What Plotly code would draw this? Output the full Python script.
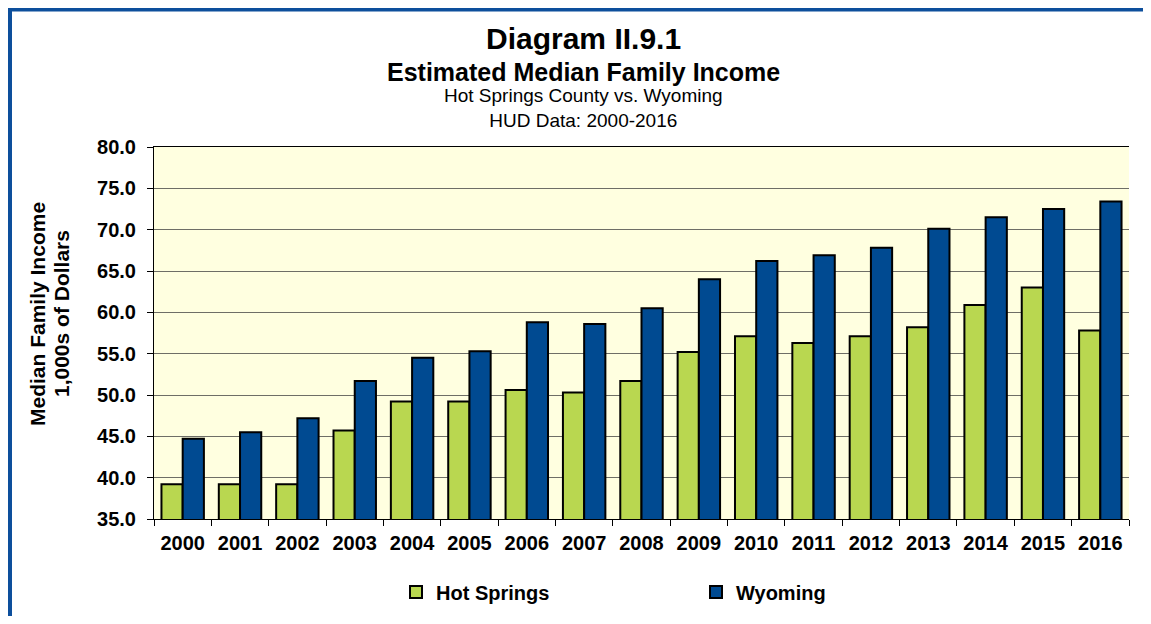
import plotly.graph_objects as go

years = [str(y) for y in range(2000, 2017)]
hot_springs = [39.2, 39.2, 39.2, 45.7, 49.2, 49.2, 50.6, 50.3, 51.7, 55.2, 57.1, 56.3, 57.1, 58.2, 60.9, 63.0, 57.8]
wyoming = [44.7, 45.5, 47.2, 51.7, 54.5, 55.3, 58.8, 58.6, 60.5, 64.0, 66.2, 66.9, 67.8, 70.1, 71.5, 72.5, 73.4]
y_ticks = [35, 40, 45, 50, 55, 60, 65, 70, 75, 80]
y_tick_labels = [f"{v:.1f}" for v in y_ticks]

FONT = "Arial, 'Liberation Sans', sans-serif"
# page body has an 8px default margin; size the figure to fit the 1151x624 window
OFF = 8
W, H = 1151 - 2 * OFF, 624 - 2 * OFF
L = 154 - OFF
T = 147 - OFF
R = W - (1129 - OFF)
B = H - (519 - OFF)
PW, PH = W - L - R, H - T - B


def sx(x):
    """screen pixel x -> paper coordinate"""
    return (x - OFF - L) / PW


def sy(y):
    """screen pixel y -> paper coordinate"""
    return (H - B - (y - OFF)) / PH


fig = go.Figure()
fig.add_trace(go.Bar(x=years, y=hot_springs, name="Hot Springs",
                     marker=dict(color="#B9D750", line=dict(color="#000000", width=2))))
fig.add_trace(go.Bar(x=years, y=wyoming, name="Wyoming",
                     marker=dict(color="#004A91", line=dict(color="#000000", width=2))))

annos = [
    dict(text="<b>Diagram II.9.1</b>", y=38, size=30),
    dict(text="<b>Estimated Median Family Income</b>", y=71.5, size=25),
    dict(text="Hot Springs County vs. Wyoming<br>HUD Data: 2000-2016", y=108, size=19),
]
for a in annos:
    fig.add_annotation(text=a["text"], x=sx(583), y=sy(a["y"]), xref="paper", yref="paper",
                       xanchor="center", yanchor="middle", showarrow=False,
                       font=dict(family=FONT, size=a["size"], color="#000000"))

for txt, xx in [("<b>Median Family Income</b>", 37), ("<b>1,000s of Dollars</b>", 61)]:
    fig.add_annotation(text=txt, x=sx(xx), y=sy(314), xref="paper", yref="paper",
                       xanchor="center", yanchor="middle", showarrow=False, textangle=-90,
                       font=dict(family=FONT, size=21, color="#000000"))

# blue frame (top and left edges only are visible)
frame = "#0D4F9C"
fig.add_shape(type="line", xref="paper", yref="paper", x0=sx(7), x1=sx(1151), y0=sy(9), y1=sy(9),
              line=dict(color=frame, width=5))
fig.add_shape(type="line", xref="paper", yref="paper", x0=sx(9.5), x1=sx(9.5), y0=sy(7), y1=sy(624),
              line=dict(color=frame, width=5))

fig.update_layout(
    width=W, height=H,
    margin=dict(l=L, r=R, t=T, b=B, pad=0, autoexpand=False),
    paper_bgcolor="#FFFFFF",
    plot_bgcolor="#FFFFE0",
    barmode="group", bargap=0.26, bargroupgap=0,
    font=dict(family=FONT, color="#000000"),
    showlegend=True,
    legend=dict(orientation="h", x=sx(396), y=sy(592), xanchor="left", yanchor="middle",
                font=dict(family=FONT, size=20, weight="bold"), entrywidth=255,
                entrywidthmode="pixels", itemclick=False, bgcolor="rgba(0,0,0,0)"),
)
fig.update_xaxes(type="category", showline=True, linecolor="#000000", linewidth=1, mirror=True,
                 ticks="outside", tickson="boundaries", ticklen=6, tickcolor="#000000",
                 tickfont=dict(family=FONT, size=20, weight="bold"), ticklabelstandoff=6,
                 showgrid=False)
fig.update_yaxes(range=[35, 80], tickvals=y_ticks, ticktext=y_tick_labels,
                 showline=True, linecolor="#000000", linewidth=1,
                 ticks="outside", ticklen=6, tickcolor="#000000",
                 tickfont=dict(family=FONT, size=20, weight="bold"), ticklabelstandoff=7,
                 showgrid=True, gridcolor="#6E6E66", gridwidth=1, zeroline=False)

fig.write_html("out.html")
